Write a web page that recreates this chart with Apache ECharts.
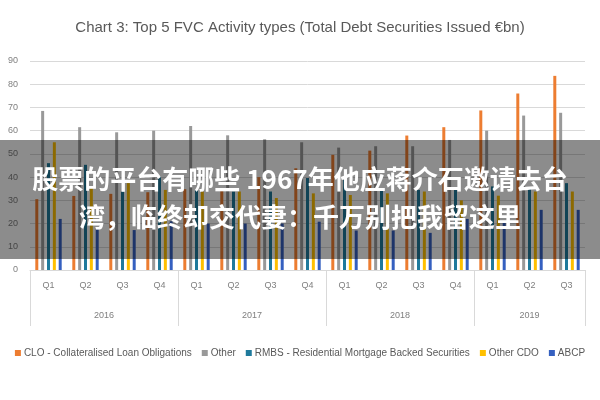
<!DOCTYPE html>
<html>
<head>
<meta charset="utf-8" />
<title>Chart 3: Top 5 FVC Activity types</title>
<script src="https://cdn.jsdelivr.net/npm/echarts@6/dist/echarts.min.js"></script>
<style type="text/css">
body, html {
	margin: 0;
	padding: 0;
	background-color: #fff;
}
#main {
	width: 600px;
	height: 400px;
}
</style>
</head>
<body>
	<div id="main"></div>
	<script>
		// 数据
		let quarters = ['Q1','Q2','Q3','Q4','Q1','Q2','Q3','Q4','Q1','Q2','Q3','Q4','Q1','Q2','Q3'];
		let years = ['2016','2017','2018','2019'];
		let yearCenters = [2, 6, 10, 13.5];
		let yearBounds = [0, 4, 8, 12, 15];
		let seriesNames = ['CLO - Collateralised Loan Obligations','Other','RMBS - Residential Mortgage Backed Securities','Other CDO','ABCP'];
		let cloData = [30.5, 31.9, 32.8, 33.5, 34.8, 34.2, 40, 43.8, 49.6, 51.4, 57.9, 61.5, 68.7, 76, 83.6];
		let otherData = [68.5, 61.5, 59.3, 60, 62, 58, 56.3, 55, 52.7, 53.3, 53.3, 56, 60, 66.5, 67.7];
		let rmbsData = [46, 45.3, 33.8, 40.2, 34.5, 33.8, 33.8, 39.6, 38.8, 34.5, 34.5, 34.5, 36, 35, 37.4];
		let otherCdoData = [55, 36, 37.4, 34.5, 33.8, 33.8, 31, 33, 32.3, 33, 33.8, 30, 32, 33.8, 33.8];
		let abcpData = [22, 17.5, 17.2, 21, 20, 20, 20, 20.8, 17, 17, 16, 22, 21, 25.9, 25.9];
		let colors = ['#ED7D31','#999999','#1F7A9C','#FFC000','#3560C0'];
		let overlayLines = ['股票的平台有哪些 1967年他应蒋介石邀请去台','湾，临终却交代妻：千万别把我留这里'];

		let font = "'Liberation Sans', sans-serif";
		let allData = [cloData, otherData, rmbsData, otherCdoData, abcpData];

		let chart = echarts.init(document.getElementById('main'));
		chart.setOption({
			animation:false,
			color:colors,
			//标题
			title:{
				text:'Chart 3: Top 5 FVC Activity types (Total Debt Securities Issued €bn)',
				left:'center',
				top:15,
				textStyle:{
					fontFamily:font,
					fontSize:15,
					fontWeight:'normal',
					color:'#595959'
				}
			},
			//图例
			legend:{
				bottom:37,
				left:'center',
				itemWidth:6,
				itemHeight:6,
				itemGap:10,
				icon:'rect',
				textStyle:{
					fontFamily:font,
					fontSize:10,
					color:'#595959',
					padding:[0,0,0,-2]
				},
				data:seriesNames
			},
			grid:{
				left:30,
				right:15,
				top:61,
				bottom:130
			},
			xAxis:[
				{
					type:'category',
					data:quarters,
					axisLine:{lineStyle:{color:'#d9d9d9'}},
					axisTick:{length:30,lineStyle:{color:'#d9d9d9'}},
					axisLabel:{
						margin:11,
						fontFamily:font,
						fontSize:9,
						color:'#7f7f7f'
					}
				},
				{
					type:'value',
					position:'bottom',
					min:0,
					max:15,
					axisLine:{show:false},
					splitLine:{show:false},
					axisTick:{
						show:true,
						length:56,
						customValues:yearBounds,
						lineStyle:{color:'#d9d9d9'}
					},
					axisLabel:{
						margin:41,
						fontFamily:font,
						fontSize:9,
						color:'#7f7f7f',
						customValues:yearCenters,
						formatter:function(v){
							let i = yearCenters.indexOf(v);
							return i >= 0 ? years[i] : '';
						}
					}
				}
			],
			yAxis:{
				type:'value',
				min:0,
				max:90,
				interval:10,
				axisLine:{show:false},
				axisTick:{show:false},
				splitLine:{lineStyle:{color:'#d9d9d9'}},
				axisLabel:{
					margin:12,
					fontFamily:font,
					fontSize:9,
					color:'#7f7f7f'
				}
			},
			series:seriesNames.map(function(name, i){
				return {
					name:name,
					type:'bar',
					xAxisIndex:0,
					barWidth:3,
					barGap:'95%',
					data:allData[i]
				};
			}),
			//遮罩和文字
			graphic:[
				{
					type:'rect',
					left:0,
					top:140,
					z:100,
					shape:{width:600,height:119},
					style:{fill:'rgba(0,0,0,0.45)'}
				},
				{
					type:'text',
					left:'center',
					top:166,
					z:101,
					style:{
						text:overlayLines[0],
						fill:'#fff',
						font:"bold 26px 'Noto Sans CJK SC'"
					}
				},
				{
					type:'text',
					left:'center',
					top:204,
					z:101,
					style:{
						text:overlayLines[1],
						fill:'#fff',
						font:"bold 26px 'Noto Sans CJK SC'"
					}
				}
			]
		});
	</script>
</body>
</html>
